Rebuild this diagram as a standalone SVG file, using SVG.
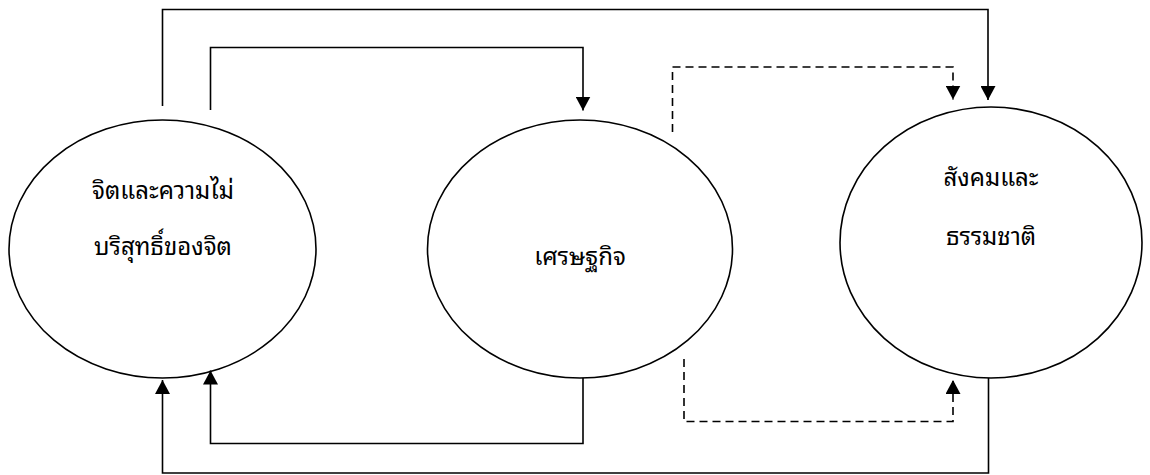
<svg xmlns="http://www.w3.org/2000/svg" width="1150" height="475" viewBox="0 0 1150 475">
<style>
.node{fill:#fff;stroke:#000;stroke-width:1.6}
.lbl{font-family:"Noto Sans Thai Looped","Noto Serif Thai","Noto Sans Thai","Noto Sans","DejaVu Sans",sans-serif;font-size:24px;fill:#000;text-anchor:middle}
.ln{fill:none;stroke:#000;stroke-width:1.6}
.dash{stroke-dasharray:8 5}
</style>
<defs>
<marker id="ah" markerUnits="userSpaceOnUse" markerWidth="16" markerHeight="15" refX="14" refY="7.5" orient="auto">
<path d="M0,0 L14,7.5 L0,15 Z" fill="#000"/>
</marker>
</defs>
<g id="n1"><ellipse class="node" cx="162.5" cy="249" rx="153.5" ry="129"/>
<text class="lbl" x="163" y="199">จิตและความไม่</text>
<text class="lbl" x="163" y="255">บริสุทธิ์ของจิต</text></g>
<g id="n2"><ellipse class="node" cx="580" cy="249" rx="152.5" ry="129"/>
<text class="lbl" x="580" y="265">เศรษฐกิจ</text></g>
<g id="n3"><ellipse class="node" cx="991" cy="242.5" rx="151" ry="135.5"/>
<text class="lbl" x="991" y="186">สังคมและ</text>
<text class="lbl" x="991" y="245">ธรรมชาติ</text></g>
<g id="connectors">
<path class="ln" d="M162.5,106 V9.5 H988 V100" marker-end="url(#ah)"/>
<path class="ln" d="M210.5,110 V47.5 H583 V110.5" marker-end="url(#ah)"/>
<path class="ln dash" d="M672.5,132 V67 H953 V99.5" marker-end="url(#ah)"/>
<path class="ln" d="M988.5,378 V473 H162.5 V380" marker-end="url(#ah)"/>
<path class="ln" d="M583,378 V443.5 H210.5 V370.5" marker-end="url(#ah)"/>
<path class="ln dash" d="M684,359 V421.5 H953 V380" marker-end="url(#ah)"/>
</g>
</svg>
